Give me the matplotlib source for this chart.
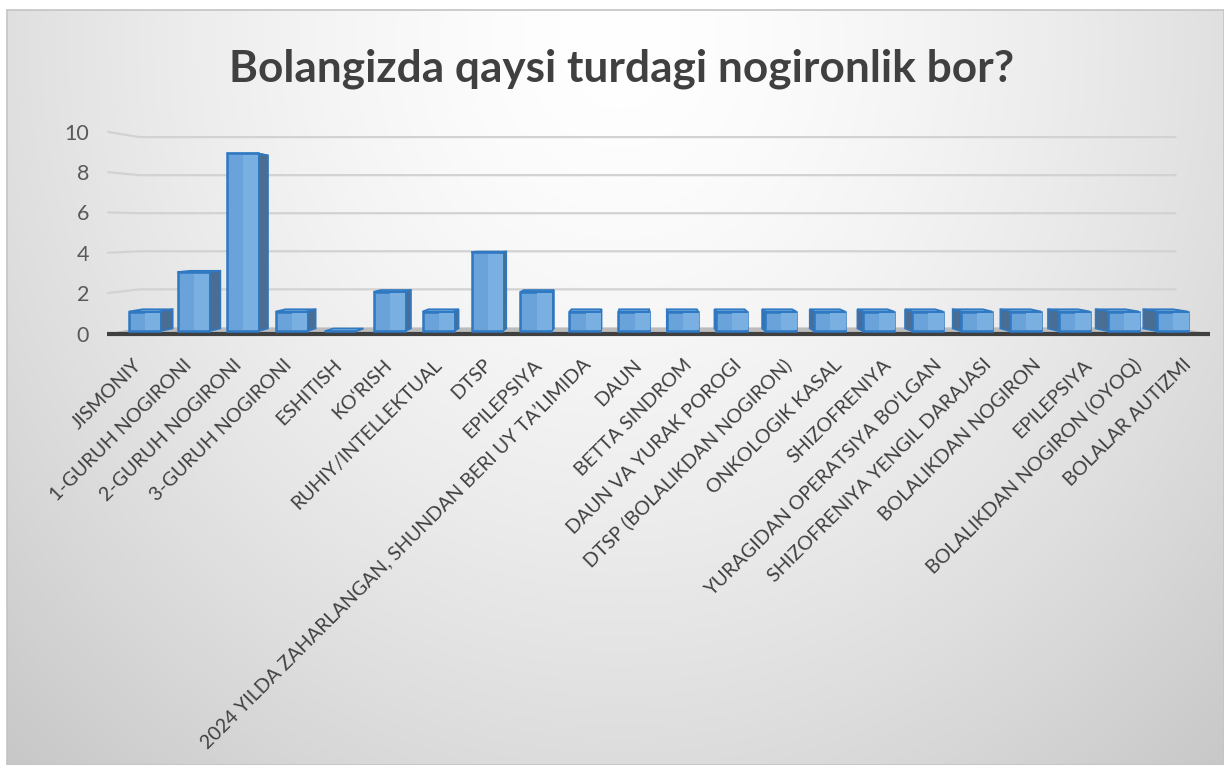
import numpy as np
import matplotlib
matplotlib.use("Agg")
import matplotlib.pyplot as plt
from matplotlib.patches import Polygon, Rectangle
from matplotlib.transforms import ScaledTranslation

# ---------------- data ----------------
categories = [
    "JISMONIY",
    "1-GURUH NOGIRONI",
    "2-GURUH NOGIRONI",
    "3-GURUH NOGIRONI",
    "ESHITISH",
    "KO‘RISH",
    "RUHIY/INTELLEKTUAL",
    "DTSP",
    "EPILEPSIYA",
    "2024 YILDA ZAHARLANGAN, SHUNDAN BERI UY TA’LIMIDA",
    "DAUN",
    "BETTA SINDROM",
    "DAUN VA YURAK POROGI",
    "DTSP (BOLALIKDAN NOGIRON)",
    "ONKOLOGIK KASAL",
    "SHIZOFRENIYA",
    "YURAGIDAN OPERATSIYA BO‘LGAN",
    "SHIZOFRENIYA YENGIL DARAJASI",
    "BOLALIKDAN NOGIRON",
    "EPILEPSIYA",
    "BOLALIKDAN NOGIRON (OYOQ)",
    "BOLALAR AUTIZMI",
]
values = [1, 3, 9, 1, 0, 2, 1, 4, 2, 1, 1, 1, 1, 1, 1, 1, 1, 1, 1, 1, 1, 1]
y_ticks = [0, 2, 4, 6, 8, 10]
title = "Bolangizda qaysi turdagi nogironlik bor?"

# ---------------- style ----------------
FONT = ["Lato", "DejaVu Sans"]
plt.rcParams["font.family"] = FONT
W, H = 1224, 765
FRONT = "#6aa3da"
HILITE = "#79afe1"
EDGE = "#2f78c2"
SIDE = "#4a6d94"
TOP = "#7fb3e2"
GRID = "#d2d2d2"
TEXT = "#404040"

# perspective parameters (vanishing point in data units, depth factors)
XV, YV = 10.2, 5.3
S_FRONT, S_BACK, S_WALL = 0.9794, 0.953, 0.943
HALF = 0.316


def proj(x, y, s):
    return XV + (x - XV) * s, YV + (y - YV) * s


fig = plt.figure(figsize=(W / 100, H / 100), dpi=100, facecolor="white")

# background radial gradient
bg = fig.add_axes([7 / W, 0, 1 - 7 / W, 1 - 10 / H], zorder=-10)
xx, yy = np.meshgrid(np.linspace(7, W, 400), np.linspace(10, H, 300))
d = np.sqrt(((xx - 620) / 650) ** 2 + ((yy - 40) / 720) ** 2)
g = np.clip(1 - 0.135 * d ** 1.5, 0, 1)
bg.imshow(np.dstack([g, g, g]), extent=[0, 1, 0, 1], aspect="auto", origin="upper")
bg.set_xlim(0, 1)
bg.set_ylim(0, 1)
bg.set_axis_off()
fig.patches.append(Rectangle((7 / W, 0), 1 - 7 / W, 1 - 10 / H, transform=fig.transFigure,
                             fill=False, edgecolor="#c4c4c4", lw=1.2))

# main axes
x0, x1 = -0.53, 21.53
left_px, right_px = 107.2, 1210.2
bot_px, top_px = 333.5, 131.7
ax = fig.add_axes([left_px / W, 1 - bot_px / H, (right_px - left_px) / W, (bot_px - top_px) / H])
ax.patch.set_alpha(0)
for s in ax.spines.values():
    s.set_visible(False)
ax.set_xlim(x0, x1)
ax.set_ylim(0, 10)

n = len(categories)

# floor
fl = [(-0.5, 0), (21.5, 0), proj(21.5, 0, S_WALL), proj(-0.5, 0, S_WALL)]
ax.add_patch(Polygon(fl, closed=True, facecolor="#bcbcbc", edgecolor="none", zorder=1, clip_on=False))

# gridlines on walls
for v in y_ticks[1:]:
    xa, ya = proj(-0.5, v, S_WALL)
    xb, yb = proj(21.5, v, S_WALL)
    ax.plot([x0, xa, xb], [v, ya, yb], color=GRID, lw=1.6, zorder=1, clip_on=False,
            solid_capstyle="butt")

# baseline
ax.plot([x0, x1], [0, 0], color="#404040", lw=3, zorder=2, clip_on=False, solid_capstyle="butt")

# bars: top & sides
for i, v in enumerate(values):
    xlf, yb_f = proj(i - HALF, 0, S_FRONT)
    xrf, yt_f = proj(i + HALF, v, S_FRONT)
    xlb, yb_b = proj(i - HALF, 0, S_BACK)
    xrb, yt_b = proj(i + HALF, v, S_BACK)
    top = [(xlf, yt_f), (xrf, yt_f), (xrb, yt_b), (xlb, yt_b)]
    ax.add_patch(Polygon(top, closed=True, facecolor=TOP, edgecolor=EDGE, lw=1.2, zorder=3))
    if i < XV:
        side = [(xrf, yb_f), (xrb, yb_b), (xrb, yt_b), (xrf, yt_f)]
    else:
        side = [(xlf, yb_f), (xlb, yb_b), (xlb, yt_b), (xlf, yt_f)]
    ax.add_patch(Polygon(side, closed=True, facecolor=SIDE, edgecolor=EDGE, lw=1.2, zorder=3))

# bars: front faces
fx = np.array([proj(i, 0, S_FRONT)[0] for i in range(n)])
fb = proj(0, 0, S_FRONT)[1]
ft = np.array([proj(0, v, S_FRONT)[1] for v in values])
fw = 2 * HALF * S_FRONT
ax.bar(fx, ft - fb, bottom=fb, width=fw, color=FRONT, edgecolor=EDGE, linewidth=1.8, zorder=5)
hh = np.clip(ft - fb - 0.16, 0, None)
ax.bar(fx + fw * 0.27, hh, bottom=fb + 0.08, width=fw * 0.5, color=HILITE, edgecolor="none",
       linewidth=0, zorder=6)

# ticks
ax.set_yticks(y_ticks)
ax.set_yticklabels([str(t) for t in y_ticks])
ax.tick_params(axis="y", length=0, pad=13, labelsize=15.5, labelcolor="#595959")
ax.set_xticks(range(n))
ax.set_xticklabels(categories, rotation=45, ha="right", rotation_mode="anchor", va="center")
ax.tick_params(axis="x", length=0, pad=20.5, labelsize=14.1, labelcolor=TEXT)
for lab in ax.get_xticklabels():
    lab.set_transform(lab.get_transform() + ScaledTranslation(0.05, 0, fig.dpi_scale_trans))

fig.text(622 / W, 1 - 69 / H, title, ha="center", va="center", fontsize=31.8,
         fontweight="bold", color=TEXT)

fig.savefig("out.png", dpi=100, facecolor="white")
